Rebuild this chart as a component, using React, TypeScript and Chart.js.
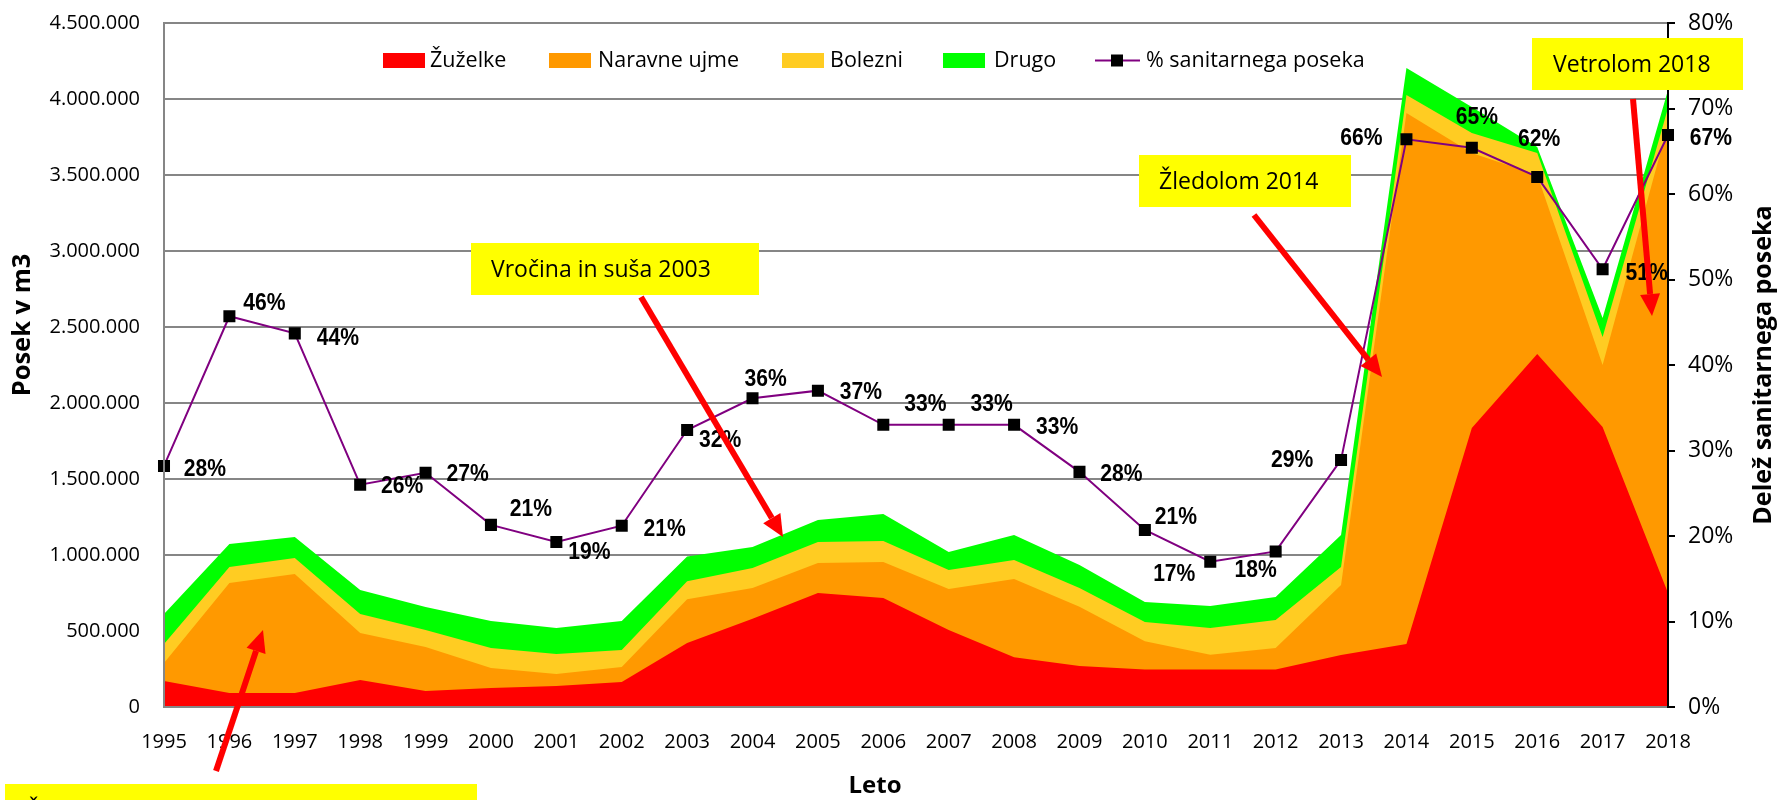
import React, { useEffect, useRef } from 'react';
import { Chart, registerables } from 'chart.js';

Chart.register(...registerables);

// ---------- DATA ----------
const YEARS = ['1995', '1996', '1997', '1998', '1999', '2000', '2001', '2002', '2003', '2004', '2005', '2006',
  '2007', '2008', '2009', '2010', '2011', '2012', '2013', '2014', '2015', '2016', '2017', '2018'];

// m3 per category (layer thickness of the stacked areas)
const ZUZELKE = [171000, 92000, 92000, 178000, 105000, 125000, 138000, 164000, 421000, 580000, 750000, 717000,
  507000, 328000, 269000, 246000, 246000, 246000, 342000, 414000, 1836000, 2322000, 1842000, 750000];
const NARAVNE_UJME = [119000, 724000, 783000, 309000, 290000, 132000, 79000, 99000, 288000, 203000, 197000, 237000,
  269000, 514000, 391000, 187000, 97000, 142000, 461000, 3494000, 1809000, 1178000, 408000, 3080000];
const BOLEZNI = [124000, 105000, 105000, 125000, 112000, 131000, 132000, 112000, 119000, 131000, 139000, 138000,
  125000, 125000, 123000, 126000, 177000, 184000, 118000, 118000, 131000, 145000, 184000, 110000];
const DRUGO = [198000, 151000, 138000, 158000, 151000, 177000, 171000, 191000, 162000, 139000, 144000, 178000,
  119000, 165000, 151000, 132000, 144000, 152000, 211000, 178000, 171000, 39000, 125000, 120000];
// % sanitarnega poseka
const SANITARNI_DELEZ = [28.2, 45.7, 43.7, 26.0, 27.4, 21.3, 19.3, 21.2, 32.4, 36.1, 37.0, 33.0,
  33.0, 33.0, 27.5, 20.7, 17.0, 18.2, 28.9, 66.4, 65.4, 62.0, 51.2, 66.9];

const SERIES_NAMES = ['Žuželke', 'Naravne ujme', 'Bolezni', 'Drugo', '% sanitarnega poseka'];
const LEFT_MAX = 4500000;
const LEFT_STEP = 500000;
const RIGHT_MAX = 80;
const RIGHT_STEP = 10;

const ANNOTATIONS = ['Žledolom in snegolom 1996 in 1997', 'Vročina in suša 2003', 'Žledolom 2014', 'Vetrolom 2018'];

// ---------- STYLE / LAYOUT ----------
const COLORS = ['#FF0000', '#FF9900', '#FFCC22', '#00FF00'];
const LINE_COLOR = '#800080';
const GRID = '#868686';
const FONT = '"Open Sans", "Noto Sans", sans-serif';
const LABEL_FONT = 'bold 24px "Liberation Sans", Arial, sans-serif';

// data label offsets (px) relative to each marker
const LABEL_OFFSETS: [number, number][] = [
  [41, 3], [35, -13], [43, 5], [42, 2], [42, 2], [40, -16], [33, 10], [43, 4], [33, 10], [13, -19], [43, 2], [42, -20],
  [43, -20], [43, 3], [42, 2], [31, -13], [-36, 13], [-20, 19], [-49, 0], [-45, -1], [5, -30], [2, -38], [44, 4], [43, 3],
];

const LEGEND_LAYOUT = [
  { box: 383, text: 430 },
  { box: 549, text: 598 },
  { box: 782, text: 830 },
  { box: 943, text: 994 },
  { box: 1095, text: 1146 },
];

const BOXES = [
  { x: 5, y: 784, w: 472, h: 54, tx: 27 },
  { x: 471, y: 243, w: 288, h: 52, tx: 491 },
  { x: 1139, y: 155, w: 212, h: 52, tx: 1159 },
  { x: 1532, y: 38, w: 211, h: 52, tx: 1553 },
];
const ARROWS = [
  [216, 771, 263, 630],
  [641, 297, 783, 537],
  [1254, 215, 1382, 377],
  [1633, 99, 1652, 316],
];

function fmtThousands(v: number): string {
  const s = Math.round(v).toString();
  return s.replace(/\B(?=(\d{3})+(?!\d))/g, '.');
}

function drawArrow(ctx: CanvasRenderingContext2D, x1: number, y1: number, x2: number, y2: number) {
  const ang = Math.atan2(y2 - y1, x2 - x1);
  const headLen = 22;
  const headW = 10;
  const bx = x2 - headLen * Math.cos(ang);
  const by = y2 - headLen * Math.sin(ang);
  ctx.save();
  ctx.strokeStyle = '#FF0000';
  ctx.fillStyle = '#FF0000';
  ctx.lineWidth = 6;
  ctx.lineCap = 'butt';
  ctx.beginPath();
  ctx.moveTo(x1, y1);
  ctx.lineTo(bx, by);
  ctx.stroke();
  ctx.beginPath();
  ctx.moveTo(x2, y2);
  ctx.lineTo(bx + headW * Math.sin(ang), by - headW * Math.cos(ang));
  ctx.lineTo(bx - headW * Math.sin(ang), by + headW * Math.cos(ang));
  ctx.closePath();
  ctx.fill();
  ctx.restore();
}

const overlayPlugin = {
  id: 'overlay',
  afterDraw(chart: any) {
    const ctx: CanvasRenderingContext2D = chart.ctx;
    const xs = chart.scales.x;
    const y2 = chart.scales.y2;

    // data labels
    ctx.save();
    ctx.font = LABEL_FONT;
    ctx.fillStyle = '#000';
    ctx.textAlign = 'center';
    ctx.textBaseline = 'middle';
    SANITARNI_DELEZ.forEach((v, i) => {
      const px = xs.getPixelForValue(i);
      const py = y2.getPixelForValue(v);
      const [dx, dy] = LABEL_OFFSETS[i];
      ctx.save();
      ctx.translate(px + dx, py + dy);
      ctx.scale(0.88, 1);
      ctx.fillText(Math.round(v) + '%', 0, 0);
      ctx.restore();
    });
    ctx.restore();

    // legend
    ctx.save();
    ctx.font = '21.5px ' + FONT;
    ctx.textBaseline = 'middle';
    ctx.textAlign = 'left';
    SERIES_NAMES.forEach((name, i) => {
      const L = LEGEND_LAYOUT[i];
      if (i < 4) {
        ctx.fillStyle = COLORS[i];
        ctx.fillRect(L.box, 53, 42, 15);
      } else {
        ctx.strokeStyle = LINE_COLOR;
        ctx.lineWidth = 2;
        ctx.beginPath();
        ctx.moveTo(L.box, 60.5);
        ctx.lineTo(L.box + 45, 60.5);
        ctx.stroke();
        ctx.fillStyle = '#000';
        ctx.fillRect(L.box + 22 - 6, 54.5, 12, 12);
      }
      ctx.fillStyle = '#000';
      ctx.fillText(name, L.text, 61);
    });
    ctx.restore();

    // axis titles
    ctx.save();
    ctx.fillStyle = '#000';
    ctx.textAlign = 'center';
    ctx.textBaseline = 'middle';
    ctx.font = 'bold 24px ' + FONT;
    ctx.fillText('Leto', 875, 786);
    ctx.font = 'bold 25.5px ' + FONT;
    ctx.save();
    ctx.translate(23, 325);
    ctx.rotate(-Math.PI / 2);
    ctx.fillText('Posek v m3', 0, 0);
    ctx.restore();
    ctx.font = 'bold 25px ' + FONT;
    ctx.save();
    ctx.translate(1764, 365);
    ctx.rotate(-Math.PI / 2);
    ctx.fillText('Delež sanitarnega poseka', 0, 0);
    ctx.restore();
    ctx.restore();

    // annotation boxes
    ctx.save();
    ctx.font = '23px ' + FONT;
    ctx.textAlign = 'left';
    ctx.textBaseline = 'middle';
    BOXES.forEach((b, i) => {
      ctx.fillStyle = '#FFFF00';
      ctx.fillRect(b.x, b.y, b.w, b.h);
      ctx.fillStyle = '#000';
      ctx.fillText(ANNOTATIONS[i], b.tx, b.y + b.h / 2 + 1);
    });
    ctx.restore();

    ARROWS.forEach(a => drawArrow(ctx, a[0], a[1], a[2], a[3]));
  },
};

export default function App() {
  const ref = useRef<HTMLCanvasElement | null>(null);

  useEffect(() => {
    document.body.style.margin = '0';
    const canvas = ref.current;
    if (!canvas) return;
    const areaData = [ZUZELKE, NARAVNE_UJME, BOLEZNI, DRUGO];
    const chart = new Chart(canvas, {
      type: 'line',
      data: {
        labels: YEARS,
        datasets: [
          {
            label: SERIES_NAMES[4],
            data: SANITARNI_DELEZ,
            yAxisID: 'y2',
            borderColor: LINE_COLOR,
            borderWidth: 2,
            pointStyle: 'rect',
            pointRadius: 8.5,
            pointBackgroundColor: '#000',
            pointBorderColor: '#000',
            pointBorderWidth: 0,
            fill: false,
            tension: 0,
          } as any,
          ...areaData.map((d, i) => ({
            label: SERIES_NAMES[i],
            data: d,
            yAxisID: 'y',
            backgroundColor: COLORS[i],
            borderColor: COLORS[i],
            borderWidth: 0,
            pointRadius: 0,
            fill: 'origin',
            tension: 0,
          })),
        ],
      },
      options: {
        responsive: false,
        maintainAspectRatio: false,
        animation: false,
        layout: { padding: { top: 23, left: 0, right: 0, bottom: 0 } },
        plugins: {
          legend: { display: false },
          tooltip: { enabled: false },
          title: { display: false },
        },
        scales: {
          x: {
            type: 'category',
            offset: false,
            grid: { display: false, drawTicks: false },
            border: { display: true, color: GRID, width: 2, z: 1 } as any,
            ticks: { font: { family: FONT, size: 20 }, color: '#000', padding: 23, maxRotation: 0, autoSkip: false },
            afterFit: (s: any) => { s.height = 93; s.paddingLeft = 0; s.paddingRight = 0; },
          },
          y: {
            position: 'left',
            stacked: true,
            min: 0,
            max: LEFT_MAX,
            grid: { color: GRID, lineWidth: 2, drawTicks: false },
            border: { color: GRID, width: 2, z: 1 } as any,
            ticks: {
              stepSize: LEFT_STEP,
              callback: (v: any) => fmtThousands(Number(v)),
              font: { family: FONT, size: 20 },
              color: '#000',
              padding: 24,
            },
            afterFit: (s: any) => { s.width = 164; s.paddingTop = 0; s.paddingBottom = 0; },
          },
          y2: {
            position: 'right',
            min: 0,
            max: RIGHT_MAX,
            grid: { drawOnChartArea: false, color: '#000', lineWidth: 2, tickLength: 7 },
            border: { color: '#000', width: 2, z: 1 } as any,
            ticks: {
              stepSize: RIGHT_STEP,
              callback: (v: any) => v + '%',
              font: { family: FONT, size: 23 },
              color: '#000',
              padding: 13,
            },
            afterFit: (s: any) => { s.width = 111; s.paddingTop = 0; s.paddingBottom = 0; },
          },
        },
      },
      plugins: [overlayPlugin],
    });
    return () => chart.destroy();
  }, []);

  return (
    <div style={{ width: 1779, height: 800, overflow: 'hidden', background: '#fff' }}>
      <canvas ref={ref} width={1779} height={800} style={{ display: 'block' }} />
    </div>
  );
}
